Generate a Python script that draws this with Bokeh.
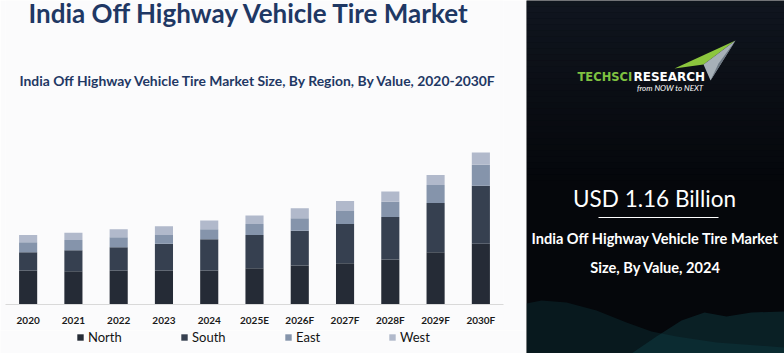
from bokeh.plotting import figure
from bokeh.models import FactorRange, Range1d, Label, Legend, LegendItem, ColumnDataSource
from bokeh.layouts import row, column
from bokeh.embed import file_html
from bokeh.resources import INLINE
from bokeh.core.properties import value

# ---------------- data ----------------
years = ["2020", "2021", "2022", "2023", "2024", "2025E",
         "2026F", "2027F", "2028F", "2029F", "2030F"]
regions = ["North", "South", "East", "West"]
north = [0.47, 0.46, 0.47, 0.47, 0.47, 0.50, 0.54, 0.57, 0.62, 0.72, 0.84]
south = [0.25, 0.29, 0.32, 0.37, 0.43, 0.46, 0.48, 0.54, 0.59, 0.68, 0.80]
east = [0.14, 0.14, 0.14, 0.12, 0.14, 0.15, 0.17, 0.18, 0.21, 0.25, 0.29]
west = [0.10, 0.10, 0.11, 0.12, 0.12, 0.12, 0.14, 0.14, 0.14, 0.14, 0.17]

title_text = "India Off Highway Vehicle Tire Market"
subtitle_text = "India Off Highway Vehicle Tire Market Size, By Region, By Value, 2020-2030F"
headline_value = "USD 1.16 Billion"
headline_caption = ["India Off Highway Vehicle Tire Market", "Size, By Value, 2024"]
brand = ["TECHSCI", "RESEARCH"]
tagline = "from NOW to NEXT"

# ---------------- styles ----------------
colors = ["#252b36", "#364050", "#8594ab", "#b1b9cb"]
FONT = "Lato"
NAVY = "#1f3864"
BG = "#fbfbfc"

source = ColumnDataSource(dict(year=years, North=north, South=south, East=east, West=west))

# ---------------- chart ----------------
p = figure(width=526, height=330,
           x_range=FactorRange(factors=years, range_padding=0),
           y_range=Range1d(0, 4.198),
           output_backend="svg", toolbar_location=None,
           min_border_left=5, min_border_right=23, min_border_top=0, min_border_bottom=26,
           background_fill_color=BG, border_fill_color=BG, outline_line_color=None,
           y_axis_location=None)

rends = p.vbar_stack(regions, x="year", width=0.4, color=colors, line_color=None, source=source)

p.xgrid.visible = False
p.ygrid.visible = False
ax = p.xaxis[0]
ax.axis_line_color = "#d9d9d9"
ax.axis_line_width = 1
ax.major_tick_line_color = None
ax.minor_tick_line_color = None
ax.major_label_standoff = 3
ax.major_label_text_font = FONT
ax.major_label_text_font_style = "bold"
ax.major_label_text_font_size = "10px"
ax.major_label_text_color = "#1a1a1a"

p.add_layout(Label(x=23, y=292, x_units="screen", y_units="screen", text=title_text,
                   text_font=FONT, text_font_style="bold", text_font_size="26px",
                   text_color=NAVY, text_baseline="middle"))
p.add_layout(Label(x=14, y=224, x_units="screen", y_units="screen", text=subtitle_text,
                   text_font=FONT, text_font_style="bold", text_font_size="13.9px",
                   text_color=NAVY, text_baseline="middle"))

# ---------------- legend strip ----------------
lg = figure(width=526, height=23, x_range=Range1d(0, 526), y_range=Range1d(0, 23),
            output_backend="svg", toolbar_location=None, min_border=0,
            background_fill_color=BG, border_fill_color=BG, outline_line_color=None,
            x_axis_location=None, y_axis_location=None)
lg.frame_align = False
lg.xgrid.visible = False
lg.ygrid.visible = False
# hidden key holders (zero size, outside the strip) that give the legend its square swatches
keys = [lg.scatter(x=[-50], y=[-50], size=0, marker="square", color=c, line_color=None)
        for c in colors]
legend = Legend(items=[LegendItem(label=reg, renderers=[k]) for reg, k in zip(regions, keys)],
                orientation="horizontal", location=(72, 8),
                glyph_width=16, glyph_height=16, label_standoff=0, label_width=36, label_height=8,
                spacing=52, padding=0, margin=0,
                border_line_color=None, background_fill_alpha=0,
                label_text_font=FONT, label_text_font_size="13px", label_text_color="#141414")
lg.add_layout(legend)

# ---------------- right panel ----------------
r = figure(width=258, height=353, x_range=Range1d(0, 258), y_range=Range1d(353, 0),
           output_backend="svg", toolbar_location=None, min_border=0,
           background_fill_color="#05070b", border_fill_color="#05070b", outline_line_color=None,
           x_axis_location=None, y_axis_location=None)
r.frame_align = False
r.xgrid.visible = False
r.ygrid.visible = False

# soft top glow
n = 30
r.quad(left=[0] * n, right=[258] * n,
       top=[i * 6 for i in range(n)], bottom=[(i + 1) * 6 for i in range(n)],
       fill_color="#1a2230", fill_alpha=[0.55 * (1 - i / n) for i in range(n)], line_color=None)

# bottom waves
r.patch([0, 15, 40, 70, 100, 125, 150, 190, 258, 258, 0],
        [303, 300, 302, 310, 322, 331, 336, 342, 347, 353, 353],
        fill_color="#0f3b42", fill_alpha=0.35, line_color=None)
r.patch([105, 130, 155, 178, 200, 225, 258, 258, 105],
        [353, 336, 320, 312, 316, 312, 311, 353, 353],
        fill_color="#12474e", fill_alpha=0.4, line_color=None)

# logo
r.patch([209, 148, 177], [40, 68, 64], fill_color="#8cc63e", line_color=None)
r.patch([209, 177, 184], [40, 64, 80], fill_color="#a7b0b8", line_color=None)
r.patch([209, 192, 184], [40, 63, 80], fill_color="#6d7883", line_color=None)
r.text(x=[51], y=[76], text=[brand[0]], text_font=value("DejaVu Sans"), text_font_style="bold",
       text_font_size="11.5px", text_color="#7fc241", text_baseline="middle")
r.text(x=[107], y=[76], text=[brand[1]], text_font=value("DejaVu Sans"), text_font_style="bold",
       text_font_size="12px", text_color="#ffffff", text_baseline="middle")
r.text(x=[177], y=[87], text=[tagline], text_font=value(FONT), text_font_style="italic",
       text_font_size="8px", text_color="#ffffff", text_baseline="middle", text_align="right")

r.text(x=[128], y=[198], text=[headline_value], text_font=value(FONT), text_font_size="22.5px",
       text_color="#ffffff", text_baseline="middle", text_align="center")
r.segment(x0=[72], y0=[217], x1=[192], y1=[217], line_color="#ffffff", line_width=1)
r.text(x=[129, 129], y=[238, 267], text=headline_caption, text_font=value(FONT),
       text_font_style="bold", text_font_size="14.6px", text_color="#ffffff",
       text_baseline="middle", text_align="center")

layout = row(column(p, lg), r)
open("out.html", "w").write(file_html(layout, INLINE))
